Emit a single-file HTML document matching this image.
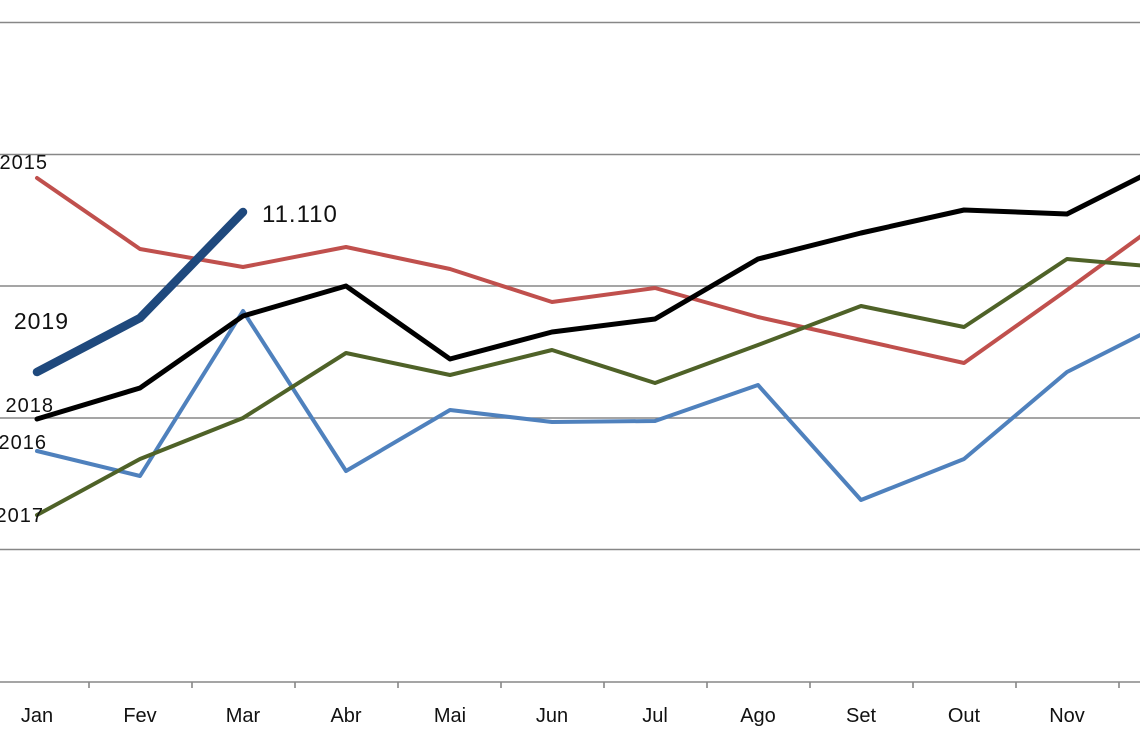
<!DOCTYPE html>
<html><head><meta charset="utf-8"><style>
html,body{margin:0;padding:0;background:#fff;}
svg{display:block;}
text{font-family:"Liberation Sans",sans-serif;fill:#111;}
</style></head><body>
<svg width="1140" height="742" viewBox="0 0 1140 742" xmlns="http://www.w3.org/2000/svg">
<rect width="1140" height="742" fill="#fff"/>
<g stroke="#878787" stroke-width="1.6">
<line x1="0" y1="22.5" x2="1140" y2="22.5"/>
<line x1="0" y1="154.5" x2="1140" y2="154.5"/>
<line x1="0" y1="286" x2="1140" y2="286"/>
<line x1="0" y1="418" x2="1140" y2="418"/>
<line x1="0" y1="549.5" x2="1140" y2="549.5"/>
<line x1="0" y1="682" x2="1140" y2="682"/>
<line x1="89" y1="682" x2="89" y2="688"/>
<line x1="192" y1="682" x2="192" y2="688"/>
<line x1="295" y1="682" x2="295" y2="688"/>
<line x1="398" y1="682" x2="398" y2="688"/>
<line x1="501" y1="682" x2="501" y2="688"/>
<line x1="604" y1="682" x2="604" y2="688"/>
<line x1="707" y1="682" x2="707" y2="688"/>
<line x1="810" y1="682" x2="810" y2="688"/>
<line x1="913" y1="682" x2="913" y2="688"/>
<line x1="1016" y1="682" x2="1016" y2="688"/>
<line x1="1119" y1="682" x2="1119" y2="688"/>
</g>
<g font-size="20" text-anchor="middle">
<text x="37" y="722">Jan</text>
<text x="140" y="722">Fev</text>
<text x="243" y="722">Mar</text>
<text x="346" y="722">Abr</text>
<text x="450" y="722">Mai</text>
<text x="552" y="722">Jun</text>
<text x="655" y="722">Jul</text>
<text x="758" y="722">Ago</text>
<text x="861" y="722">Set</text>
<text x="964" y="722">Out</text>
<text x="1067" y="722">Nov</text>
</g>
<g fill="none" stroke-linejoin="round" stroke-linecap="round">
<polyline stroke="#4F81BD" stroke-width="4" points="37,451 140,476 243,311 346,471 450,410 552,422 655,421 758,385 861,500 964,459 1067,372 1170,320"/>
<polyline stroke="#C0504D" stroke-width="4" points="37,178 140,249 243,267 346,247 450,269 552,302 655,288 758,317 861,340 964,363 1067,290 1170,215"/>
<polyline stroke="#4F6228" stroke-width="4" points="37,515 140,459 243,418 346,353 450,375 552,350 655,383 758,345 861,306 964,327 1067,259 1170,268"/>
<polyline stroke="#000" stroke-width="5" points="37,419 140,388 243,316 346,286 450,359 552,332 655,319 758,259 861,233 964,210 1067,214 1170,162"/>
<polyline stroke="#1F497D" stroke-width="8.5" points="37,372 140,318 243,212"/>
</g>
<g font-size="20" text-anchor="end" letter-spacing="1">
<text x="48" y="169">2015</text>
<text x="54" y="412">2018</text>
<text x="47" y="449">2016</text>
<text x="44" y="522">2017</text>
</g>
<text x="69" y="329" font-size="23" text-anchor="end" letter-spacing="1">2019</text>
<text x="262" y="222" font-size="24" letter-spacing="1">11.110</text>
</svg>
</body></html>
